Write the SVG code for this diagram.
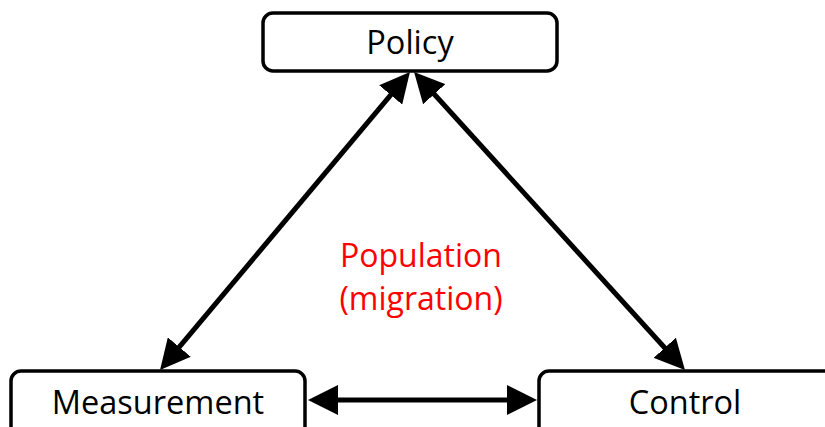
<svg xmlns="http://www.w3.org/2000/svg" width="825" height="427" viewBox="0 0 825 427">
<style>
.box{fill:#fff;stroke:#000;stroke-width:3.5}
.lbl{font-family:"Open Sans","Liberation Sans",sans-serif;font-size:32.5px;fill:#000;text-anchor:middle}
.red{font-family:"Open Sans","Liberation Sans",sans-serif;font-size:32px;fill:#ff0000;text-anchor:middle}
.conn{stroke:#000;stroke-width:5;fill:none;marker-start:url(#ah);marker-end:url(#ah)}
</style>
<defs>
<marker id="ah" markerUnits="userSpaceOnUse" markerWidth="30" markerHeight="30" refX="10" refY="15" orient="auto-start-reverse" viewBox="0 0 30 30">
<path d="M0,0 L30,15 L0,30 z" fill="#000"/>
</marker>
</defs>
<rect width="825" height="427" fill="#fff"/>
<g id="policy"><rect class="box" x="263" y="13" width="294" height="58" rx="10"/><text class="lbl" x="410" y="54">Policy</text></g>
<g id="measurement"><rect class="box" x="11" y="371" width="294" height="80" rx="10"/><text class="lbl" x="158" y="414">Measurement</text></g>
<g id="control"><rect class="box" x="539" y="371" width="310" height="80" rx="10"/><text class="lbl" x="685" y="414">Control</text></g>
<g id="population"><text class="red" x="421" y="267">Population</text><text class="red" x="421" y="310">(migration)</text></g>
<g id="connectors">
<line class="conn" x1="172.9" y1="354.7" x2="397.1" y2="87.3"/>
<line class="conn" x1="671.5" y1="355.2" x2="427.5" y2="86.8"/>
<line class="conn" x1="328" y1="400" x2="517" y2="400"/>
</g>
</svg>
